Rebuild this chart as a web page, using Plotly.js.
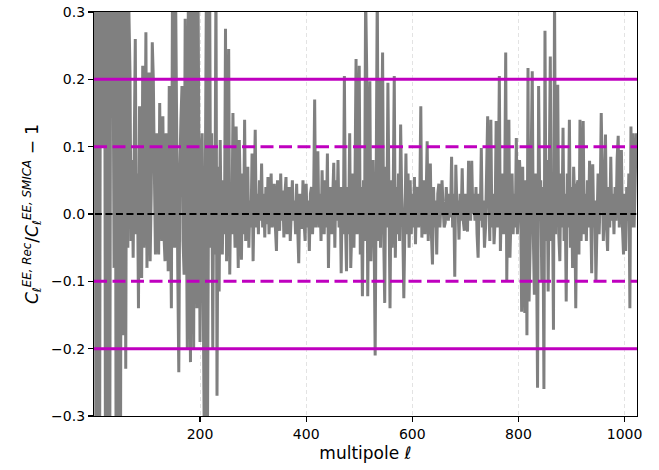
<!DOCTYPE html>
<html>
<head>
<meta charset="utf-8">
<script src="https://cdn.plot.ly/plotly-3.0.1.min.js"></script>
<style>
  html, body { margin: 0; padding: 0; background: #fff; }
  #plot { width: 659px; height: 470px; }
</style>
</head>
<body>
<div id="plot"></div>
<script>
// Relative difference of the reconstructed EE spectrum vs. SMICA, one value every 2 multipoles
const ELL_START = 2;
const ELL_STEP = 2;

const ratio = [
  0.85, -0.62, 0.30, 0.71, -0.78, 0.20, 0.46, 0.10, 0.35, 0.58, -0.52, 0.25, 0.41, -0.69, -0.35,
  0.52, 0.45, 0.30, -0.08, 0.55, -0.48, 0.36, -0.60, 0.40, -0.45, 0.40, 0.30, -0.18, 0.35, -0.23,
  0.32, -0.05, 0.30, 0.21, -0.04, 0.08, -0.065, 0.10, 0.26, -0.03, 0.06, -0.14, 0.16, -0.03, -0.095,
  0.22, -0.05, 0.04, 0.27, -0.08, 0.05, 0.21, -0.07, 0.03, 0.255, 0.20, 0.06, -0.06, 0.12, -0.03,
  -0.06, 0.165, 0.02, -0.04, 0.145, -0.03, -0.07, 0.12, 0.04, -0.085, 0.19, -0.02, -0.14, 0.32, 0.05,
  -0.05, 0.33, 0.06, -0.08, -0.235, 0.07, 0.14, 0.19, -0.04, -0.09, 0.29, 0.02, -0.20, 0.34, -0.06,
  -0.22, 0.35, 0.04, -0.20, 0.33, 0.05, -0.14, 0.36, 0.03, -0.19, 0.08, 0.12, -0.12, -0.34, 0.06,
  0.34, -0.33, 0.05, 0.38, -0.05, 0.12, -0.20, 0.10, -0.06, 0.36, -0.27, 0.07, -0.115, 0.11, -0.04,
  -0.06, 0.05, -0.03, 0.275, -0.07, 0.06, 0.245, -0.09, 0.04, -0.03, 0.15, 0.02, -0.05, 0.13, -0.03,
  -0.08, 0.11, 0.01, -0.068, 0.06, -0.03, 0.14, -0.04, 0.03, 0.07, -0.05, 0.02, -0.02, 0.09, -0.07,
  0.02, 0.125, -0.02, 0.03, -0.03, 0.05, -0.01, 0.075, -0.02, 0.03, -0.035, 0.04, -0.015, 0.055, -0.03,
  0.02, 0.06, -0.02, 0.03, 0.045, -0.02, -0.055, 0.05, 0.01, -0.025, 0.06, -0.01, 0.035, -0.035, 0.03,
  0.055, -0.03, 0.01, 0.04, -0.04, 0.02, 0.05, -0.01, 0.02, -0.03, 0.045, -0.02, -0.073, 0.03, -0.02,
  -0.02, 0.05, -0.01, -0.04, 0.045, -0.02, 0.02, -0.055, 0.03, 0.04, -0.03, 0.02, 0.17, -0.02, 0.02,
  0.093, -0.02, 0.03, -0.04, 0.065, -0.01, -0.03, 0.05, -0.02, 0.09, -0.08, 0.03, 0.04, -0.03, 0.02,
  0.076, -0.05, 0.05, -0.01, 0.08, -0.02, 0.04, -0.088, 0.04, -0.03, 0.205, -0.01, -0.085, 0.04, -0.03,
  0.12, -0.08, -0.02, 0.06, -0.05, 0.05, 0.23, -0.03, 0.08, 0.22, -0.06, 0.04, -0.122, 0.05, -0.04,
  0.33, 0.217, -0.122, 0.05, 0.197, -0.07, 0.03, 0.08, -0.03, -0.21, 0.06, 0.34, -0.04, 0.20, -0.05,
  0.06, 0.24, -0.03, -0.132, 0.07, -0.02, 0.195, -0.04, -0.14, 0.05, -0.05, 0.03, 0.205, -0.065, 0.04,
  -0.03, 0.06, -0.04, 0.133, 0.03, -0.02, -0.125, 0.04, 0.09, -0.03, 0.06, -0.05, 0.05, -0.03, 0.03,
  -0.02, 0.055, -0.045, 0.03, 0.04, -0.02, 0.02, 0.16, -0.035, 0.03, 0.05, -0.03, 0.02, 0.108, -0.04,
  0.03, 0.075, -0.03, -0.075, 0.04, -0.02, 0.02, -0.06, 0.03, 0.045, -0.02, 0.03, 0.05, 0.01, -0.02,
  -0.013, 0.04, 0.01, -0.01, 0.03, -0.005, 0.085, -0.02, 0.03, -0.093, 0.073, 0.01, 0.02, -0.038, 0.03,
  -0.01, 0.068, -0.01, -0.025, 0.03, -0.01, -0.026, 0.079, 0.01, -0.01, 0.079, 0.0, 0.03, -0.01, 0.04,
  -0.03, -0.065, 0.03, -0.01, 0.098, -0.02, 0.02, -0.05, -0.02, 0.06, 0.145, 0.02, -0.04, 0.14, -0.02,
  0.03, -0.045, -0.01, 0.138, -0.02, 0.03, 0.205, -0.055, 0.02, 0.06, -0.03, 0.03, 0.24, -0.098, 0.04,
  0.14, -0.065, -0.01, 0.06, -0.03, 0.03, -0.02, 0.113, -0.03, 0.01, 0.08, 0.04, -0.145, 0.07, -0.06,
  -0.147, 0.05, -0.18, 0.217, -0.13, -0.05, 0.09, 0.212, -0.03, -0.12, 0.06, -0.04, -0.258, 0.19, 0.03,
  0.05, -0.10, 0.04, -0.26, 0.272, -0.04, 0.08, -0.115, 0.05, 0.234, -0.04, 0.03, -0.172, 0.33, -0.03,
  0.06, 0.192, -0.03, -0.07, 0.06, -0.02, 0.128, -0.04, 0.03, -0.13, 0.06, -0.02, 0.14, -0.05, 0.04,
  -0.08, 0.07, 0.02, -0.14, 0.04, 0.05, -0.06, 0.14, -0.04, 0.03, 0.138, -0.03, 0.03, -0.04, 0.05,
  -0.02, 0.079, 0.01, -0.088, 0.074, -0.02, 0.02, -0.10, -0.02, 0.06, -0.03, 0.02, 0.15, 0.04, -0.04,
  0.03, 0.118, -0.02, -0.055, 0.04, -0.02, 0.085, -0.01, 0.03, -0.03, 0.04, -0.01, 0.083, 0.116, -0.02,
  0.03, 0.095, -0.02, -0.06, 0.03, -0.055, 0.04, -0.01, 0.06, -0.14, 0.13, -0.02, 0.12, -0.02, 0.05,
  0.12
];

const ell = ratio.map((_, i) => ELL_START + ELL_STEP * i);

// Reference levels
const solidLevels = [0.2, -0.2];
const dashedLevels = [0.1, -0.1];
const zeroLevel = [0];

const xTicks = [200, 400, 600, 800, 1000];
const yTicks = [-0.3, -0.2, -0.1, 0.0, 0.1, 0.2, 0.3];

const MAGENTA = '#bf00bf';

const shapes = [];
solidLevels.forEach(v => shapes.push({
  type: 'line', xref: 'paper', x0: 0, x1: 1, yref: 'y', y0: v, y1: v,
  line: { color: MAGENTA, width: 3 }
}));
dashedLevels.forEach(v => shapes.push({
  type: 'line', xref: 'paper', x0: 0, x1: 1, yref: 'y', y0: v, y1: v,
  line: { color: MAGENTA, width: 3, dash: '13px,5.5px' }
}));
zeroLevel.forEach(v => shapes.push({
  type: 'line', xref: 'x', x0: ell[0], x1: ell[ell.length - 1], yref: 'y', y0: v, y1: v,
  line: { color: '#000000', width: 2, dash: '7px,3.5px' }
}));

const trace = {
  x: ell,
  y: ratio,
  type: 'scatter',
  mode: 'lines',
  line: { color: '#808080', width: 3 },
  hoverinfo: 'skip'
};

const layout = {
  width: 659,
  height: 470,
  margin: { l: 94, r: 22, t: 12, b: 54, pad: 0 },
  paper_bgcolor: '#fff',
  plot_bgcolor: '#fff',
  showlegend: false,
  font: { family: 'DejaVu Sans, sans-serif', color: '#000', size: 14 },
  xaxis: {
    range: [0.2, 1023.4],
    tickmode: 'array',
    tickvals: xTicks,
    ticktext: xTicks.map(String),
    ticks: 'outside',
    ticklen: 5,
    tickwidth: 1.1,
    tickcolor: '#000',
    showline: true,
    mirror: true,
    linecolor: '#000',
    linewidth: 1.1,
    showgrid: true,
    gridcolor: '#e3e3e3',
    griddash: '4px,3px',
    gridwidth: 1,
    zeroline: false,
    tickfont: { family: 'DejaVu Sans, sans-serif', size: 14, color: '#000' },
    title: {
      text: 'multipole <i>ℓ</i>',
      font: { family: 'DejaVu Sans, sans-serif', size: 17, color: '#000' },
      standoff: 6
    }
  },
  yaxis: {
    range: [-0.3, 0.3],
    tickmode: 'array',
    tickvals: yTicks,
    ticktext: yTicks.map(v => (v < 0 ? '\u2212' : '') + Math.abs(v).toFixed(1)),
    ticks: 'outside',
    ticklen: 5,
    tickwidth: 1.1,
    tickcolor: '#000',
    showline: true,
    mirror: true,
    linecolor: '#000',
    linewidth: 1.1,
    showgrid: false,
    zeroline: false,
    tickfont: { family: 'DejaVu Sans, sans-serif', size: 14, color: '#000' },
    title: {
      text: '<i>C</i><sub><i>ℓ</i></sub><sup><i>EE, Rec</i></sup>/<i>C</i><sub><i>ℓ</i></sub><sup><i>EE, SMICA</i></sup> \u2212 1',
      font: { family: 'DejaVu Sans, sans-serif', size: 17, color: '#000' },
      standoff: 8
    }
  },
  shapes: shapes
};

Plotly.newPlot('plot', [trace], layout, { staticPlot: true, displayModeBar: false });
</script>
</body>
</html>
